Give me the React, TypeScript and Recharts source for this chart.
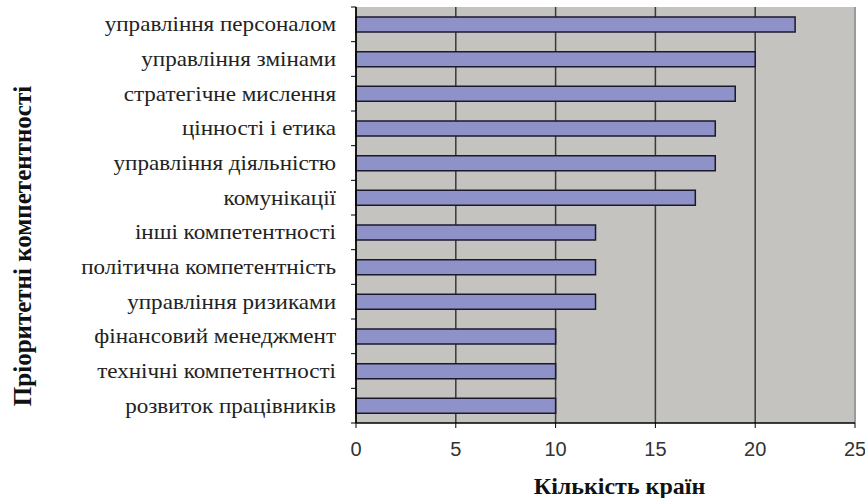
import React from 'react';
import { BarChart, Bar, XAxis, YAxis, CartesianGrid, Label, ReferenceLine } from 'recharts';

const categories = [
  'управління персоналом',
  'управління змінами',
  'стратегічне мислення',
  'цінності і етика',
  'управління діяльністю',
  'комунікації',
  'інші компетентності',
  'політична компетентність',
  'управління ризиками',
  'фінансовий менеджмент',
  'технічні компетентності',
  'розвиток працівників',
];
const counts = [22, 20, 19, 18, 18, 17, 12, 12, 12, 10, 10, 10];
const xTicks = [0, 5, 10, 15, 20, 25];

const data = categories.map((name, i) => ({ name, value: counts[i] }));

const CategoryTick = (props: any) => {
  const { x, y, payload } = props;
  const half = payload && typeof payload.offset === 'number' && payload.offset > 0 ? payload.offset : 17.3;
  return (
    <g>
      <text
        transform={`translate(${x - 20},${y + 7}) scale(1.1,1)`}
        textAnchor="end"
        fontFamily="'Liberation Serif', 'Times New Roman', serif"
        fontSize={21}
        fill="#222"
      >
        {payload.value}
      </text>
      <line x1={x - 5} x2={x} y1={y + half} y2={y + half} stroke="#000" strokeWidth={1} />
      {payload.index === 0 ? (
        <line x1={x - 5} x2={x} y1={y - half} y2={y - half} stroke="#000" strokeWidth={1} />
      ) : null}
    </g>
  );
};

export default function App() {
  return (
    <div style={{ position: 'absolute', left: 0, top: 0, width: 865, height: 498, background: '#fff' }}>
      <BarChart
        width={865}
        height={498}
        data={data}
        layout="vertical"
        margin={{ top: 7, right: 10, bottom: 0, left: 0 }}
        barSize={15}
      >
        <CartesianGrid horizontal={false} vertical={true} stroke="#3a3a3a" strokeWidth={1.5} fill="#c4c3bf" fillOpacity={1} />
        <ReferenceLine x={25} stroke="#9a9a9a" strokeWidth={2} />
        <XAxis
          type="number"
          domain={[0, 25]}
          ticks={xTicks}
          height={75}
          axisLine={{ stroke: '#000', strokeWidth: 1.5 }}
          tickLine={{ stroke: '#000' }}
          tickSize={5}
          tick={{ fontFamily: "'Liberation Sans', Arial, sans-serif", fontSize: 20, fill: '#333' }}
          tickMargin={14}
        >
          <Label
            value="Кількість країн"
            position="insideBottom"
            offset={4}
            dx={14}
            style={{ fontFamily: "'Liberation Serif', 'Times New Roman', serif", fontSize: 24, fontWeight: 'bold', fill: '#111' }}
          />
        </XAxis>
        <YAxis
          type="category"
          dataKey="name"
          width={356}
          axisLine={{ stroke: '#000', strokeWidth: 1.5 }}
          tickLine={false}
          tickSize={0}
          tickMargin={0}
          tick={<CategoryTick />}
          interval={0}
        >
          <Label
            value="Пріоритетні компетентності"
            angle={-90}
            position="insideLeft"
            offset={22}
            dy={31}
            style={{ textAnchor: 'middle', fontFamily: "'Liberation Serif', 'Times New Roman', serif", fontSize: 25, fontWeight: 'bold', fill: '#111' }}
          />
        </YAxis>
        <Bar dataKey="value" fill="#8f92c8" stroke="#1a1a2e" strokeWidth={1.5} isAnimationActive={false} />
      </BarChart>
    </div>
  );
}
